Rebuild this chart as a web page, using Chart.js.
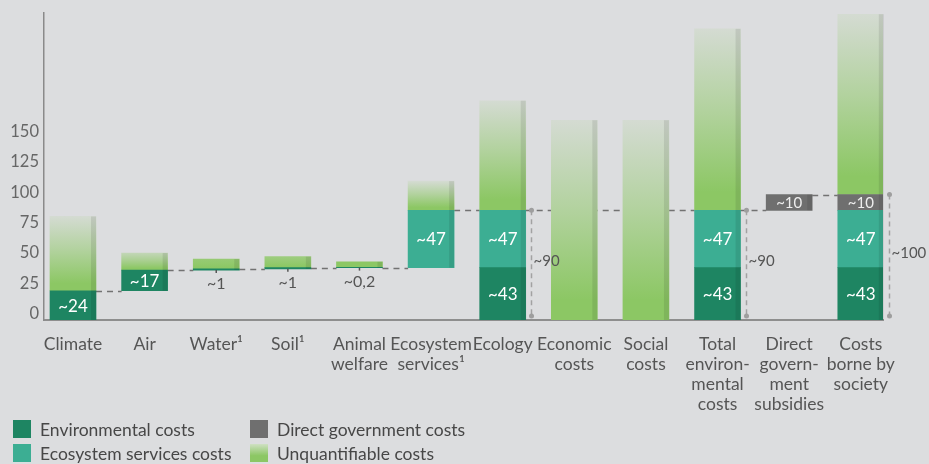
<!DOCTYPE html>
<html>
<head>
<meta charset="utf-8">
<script src="https://cdn.jsdelivr.net/npm/chart.js@4.4.1/dist/chart.umd.min.js"></script>
<style>
    html, body { margin: 0; padding: 0; background: #dcdddf; }
    #wrap { position: relative; width: 929px; height: 464px; overflow: hidden; }
    #legend { position: absolute; left: 13px; top: 420px; display: grid; grid-template-columns: 237px auto; row-gap: 6px;
              font-family: Lato, sans-serif; font-size: 17.5px; color: #474747; }
    .legend-item { display: flex; align-items: center; height: 18px; white-space: nowrap; }
    .legend-box { width: 18px; height: 18px; margin-right: 9px; flex: none; }
</style>
</head>
<body>
<div id="wrap">
    <canvas id="costsChart" width="929" height="464"></canvas>
    <div id="legend"></div>
</div>
<script>
// categories and value ranges [from, to] per series (null = no bar)
const categories = [['Climate'], ['Air'], ['Water¹'], ['Soil¹'], ['Animal', 'welfare'], ['Ecosystem', 'services¹'],
    ['Ecology'], ['Economic', 'costs'], ['Social', 'costs'], ['Total', 'environ-', 'mental', 'costs'],
    ['Direct', 'govern-', 'ment', 'subsidies'], ['Costs', 'borne by', 'society']];

const envCosts = [[0, 24], [24, 41], [41, 42], [42, 43], [43, 43.2], null, [0, 43], null, null, [0, 43], null, [0, 43]];
const envLabels = ['~24', '~17', '~1', '~1', '~0,2', null, '~43', null, null, '~43', null, '~43'];

const ecoCosts = [null, null, null, null, null, [43, 90], [43, 90], null, null, [43, 90], null, [43, 90]];
const ecoLabels = [null, null, null, null, null, '~47', '~47', null, null, '~47', null, '~47'];

const govCosts = [null, null, null, null, null, null, null, null, null, null, [90, 103], [90, 103]];
const govLabels = [null, null, null, null, null, null, null, null, null, null, '~10', '~10'];

const unqCosts = [[24, 85], [41, 55], [42, 50], [43, 52], [43.2, 47.8], [90, 114], [90, 180], [0, 164], [0, 164],
    [90, 239], null, [103, 251]];

const yTicks = [0, 25, 50, 75, 100, 125, 150];

// dashed step lines: [from category, to category, level]
const steps = [[0, 1, 24], [1, 2, 41], [2, 3, 42], [3, 4, 43], [4, 5, 43], [5, 6, 90], [6, 9, 90], [9, 10, 90], [10, 11, 103]];
// total brackets: [category, level, label]
const totals = [[6, 90, '~90'], [9, 90, '~90'], [11, 103, '~100']];

const GREEN = [140, 199, 100];
const PALE = [216, 220, 216];

function toPoints(ranges) {
    return ranges.map((r, i) => r ? { x: i, y: r } : null).filter(Boolean);
}

function mix(a, b, t) {
    return `rgb(${a.map((v, i) => Math.round(v + (b[i] - v) * t)).join(',')})`;
}

function unqFill(ctx) {
    const chart = ctx.chart;
    const ys = chart.scales.y;
    if (!ctx.raw || !ys) return mix(GREEN, PALE, 0);
    const yb = ys.getPixelForValue(ctx.raw.y[0]);
    const yt = ys.getPixelForValue(ctx.raw.y[1]);
    if (!isFinite(yb) || !isFinite(yt) || yb === yt) return mix(GREEN, PALE, 0);
    const fade = Math.max(0, Math.min(1, (yb - yt - 8) / 12));
    const g = chart.ctx.createLinearGradient(0, yb, 0, yt);
    g.addColorStop(0, mix(GREEN, PALE, 0));
    g.addColorStop(0.1, mix(GREEN, PALE, 0));
    g.addColorStop(0.55, mix(GREEN, PALE, 0.5 * fade));
    g.addColorStop(1, mix(GREEN, PALE, 0.95 * fade));
    return g;
}

function barBoxes(chart) {
    const boxes = [];
    chart.data.datasets.forEach((ds, d) => {
        chart.getDatasetMeta(d).data.forEach((el, k) => {
            const p = el.getProps(['x', 'y', 'base', 'width'], true);
            boxes.push({ ds: d, cat: ds.data[k].x, cx: p.x, left: p.x - p.width / 2, right: p.x + p.width / 2,
                top: Math.min(p.y, p.base), bottom: Math.max(p.y, p.base) });
        });
    });
    return boxes;
}

function catEdges(boxes, cat) {
    const b = boxes.filter(b => b.cat === cat);
    return { left: Math.min(...b.map(v => v.left)), right: Math.max(...b.map(v => v.right)) };
}

const costsPlugin = {
    id: 'costsDecor',
    beforeDatasetsDraw(chart) {
        const { ctx } = chart;
        const ys = chart.scales.y;
        const boxes = barBoxes(chart);
        ctx.save();
        ctx.strokeStyle = '#727272';
        ctx.lineWidth = 1.5;
        ctx.setLineDash([6, 5]);
        steps.forEach(([a, b, level]) => {
            const y = Math.round(ys.getPixelForValue(level)) + 0.5;
            ctx.beginPath();
            ctx.moveTo(catEdges(boxes, a).right, y);
            ctx.lineTo(catEdges(boxes, b).left, y);
            ctx.stroke();
        });
        ctx.restore();
    },
    afterDatasetsDraw(chart) {
        const { ctx } = chart;
        const ys = chart.scales.y;
        const boxes = barBoxes(chart);
        const segLabels = [envLabels, ecoLabels, govLabels, null];
        ctx.save();
        // darker strip on the right side of each bar
        ctx.fillStyle = 'rgba(0,0,0,0.09)';
        boxes.forEach(b => ctx.fillRect(b.right - 5, b.top, 5, b.bottom - b.top));

        ctx.textAlign = 'center';
        ctx.textBaseline = 'middle';
        boxes.forEach(b => {
            const labels = segLabels[b.ds];
            if (!labels || !labels[b.cat]) return;
            const h = b.bottom - b.top;
            if (h >= 14) {
                ctx.fillStyle = b.ds === 2 ? '#eeeeee' : '#ffffff';
                ctx.font = (b.ds === 2 ? '15px' : '17px') + ' Lato';
                ctx.fillText(labels[b.cat], b.cx, (b.top + b.bottom) / 2 + 1);
            } else {
                ctx.strokeStyle = '#555';
                ctx.lineWidth = 1.5;
                ctx.beginPath();
                ctx.moveTo(b.cx, b.bottom);
                ctx.lineTo(b.cx, b.bottom + 3);
                ctx.stroke();
                ctx.fillStyle = '#555';
                ctx.font = '16px Lato';
                ctx.fillText(labels[b.cat], b.cx, b.bottom + 14);
            }
        });

        // total brackets
        const y0 = ys.getPixelForValue(0) - 4;
        totals.forEach(([cat, level, text]) => {
            const x = Math.round(catEdges(boxes, cat).right + 5) + 0.5;
            const yt = ys.getPixelForValue(level);
            ctx.strokeStyle = '#a2a2a2';
            ctx.lineWidth = 1.5;
            ctx.setLineDash([5, 4]);
            ctx.beginPath();
            ctx.moveTo(x, yt);
            ctx.lineTo(x, y0);
            ctx.stroke();
            ctx.setLineDash([]);
            ctx.fillStyle = '#9e9e9e';
            [yt, y0].forEach(y => { ctx.beginPath(); ctx.arc(x, y, 2.5, 0, Math.PI * 2); ctx.fill(); });
            ctx.fillStyle = '#555';
            ctx.font = '15px Lato';
            ctx.textAlign = 'left';
            ctx.fillText(text, x + 2, (yt + y0) / 2 - 2);
        });
        ctx.restore();
    }
};

Chart.defaults.font.family = 'Lato';
Chart.defaults.color = '#555';

const chart = new Chart(document.getElementById('costsChart'), {
    type: 'bar',
    data: {
        datasets: [
            { label: 'Environmental costs', data: toPoints(envCosts), backgroundColor: '#1e8562' },
            { label: 'Ecosystem services costs', data: toPoints(ecoCosts), backgroundColor: '#3cae93' },
            { label: 'Direct government costs', data: toPoints(govCosts), backgroundColor: '#6f6f6f' },
            { label: 'Unquantifiable costs', data: toPoints(unqCosts), backgroundColor: unqFill }
        ]
    },
    options: {
        responsive: false,
        animation: false,
        layout: { padding: { top: 13, right: 46, left: 0, bottom: 0 } },
        datasets: { bar: { grouped: false, barThickness: 46, borderWidth: 0 } },
        plugins: { legend: { display: false }, tooltip: { enabled: false } },
        scales: {
            x: {
                type: 'linear', min: -0.405, max: 11.31, offset: false,
                grid: { display: false, drawTicks: false },
                border: { display: true, color: '#8e8e8e', width: 2 },
                afterBuildTicks: s => { s.ticks = categories.map((c, i) => ({ value: i })); },
                ticks: { autoSkip: false, maxRotation: 0, padding: 14, color: '#555',
                         font: { size: 17.5, lineHeight: 20 / 17.5 }, callback: v => categories[v] },
                afterFit: s => { s.height = 144; s.paddingLeft = 0; s.paddingRight = 0; }
            },
            y: {
                min: 0, max: 252,
                grid: { display: false, drawTicks: false },
                border: { display: true, color: '#8a8a8a', width: 1.5 },
                afterBuildTicks: s => { s.ticks = yTicks.map(v => ({ value: v })); },
                ticks: { color: '#666', padding: 5, labelOffset: -6, font: { size: 16.5 } },
                afterFit: s => { s.width = 44; s.paddingTop = 0; s.paddingBottom = 0; }
            }
        }
    },
    plugins: [costsPlugin]
});

// legend, two columns: Environmental / Direct government, Ecosystem / Unquantifiable
const legendOrder = [0, 2, 1, 3];
const legendSwatch = ['#1e8562', '#3cae93', '#6f6f6f', 'linear-gradient(to top, #8cc764 35%, #cfe0c3)'];
document.getElementById('legend').innerHTML = legendOrder.map(d =>
    `<div class="legend-item"><span class="legend-box" style="background:${legendSwatch[d]}"></span>${chart.data.datasets[d].label}</div>`
).join('');
</script>
</body>
</html>
